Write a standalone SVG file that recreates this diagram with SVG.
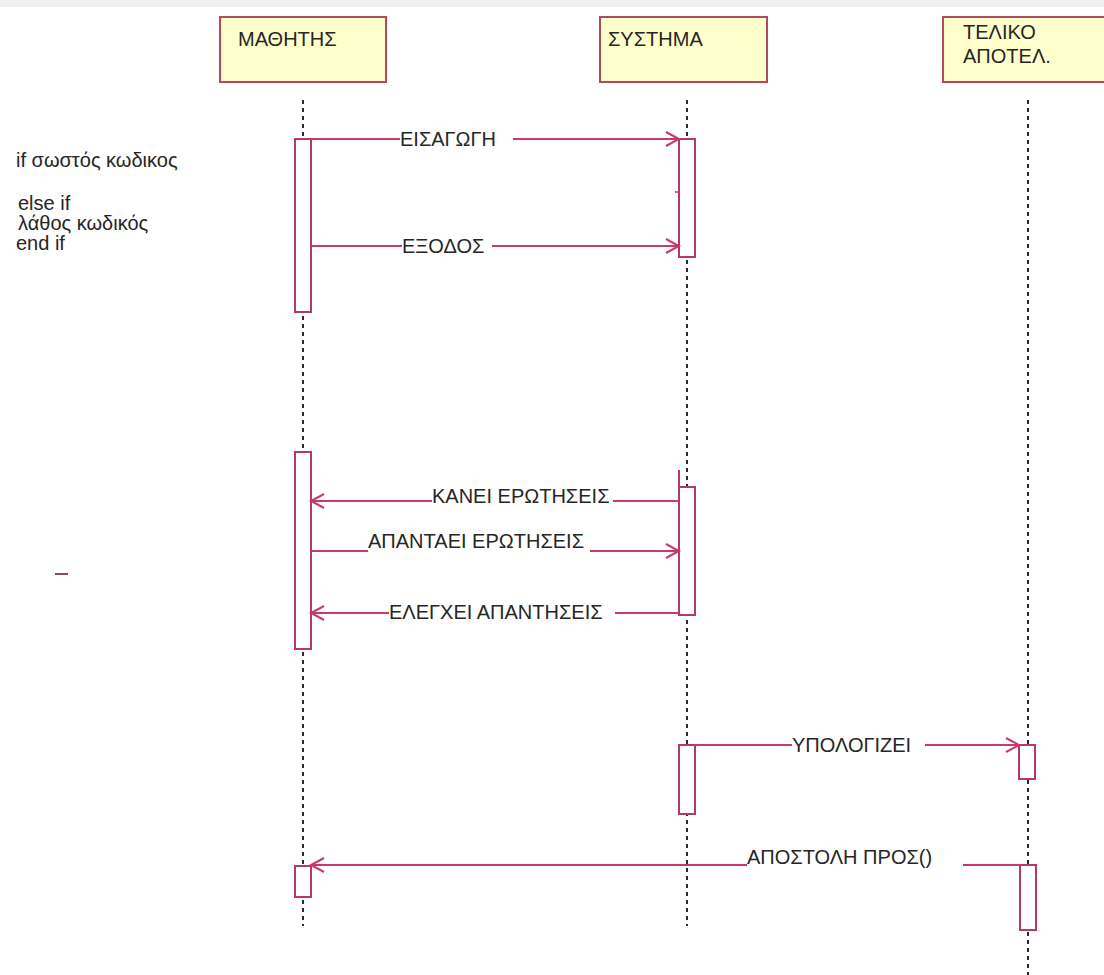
<svg xmlns="http://www.w3.org/2000/svg" width="1104" height="975" viewBox="0 0 1104 975">
<defs>
<style>
.bg{fill:#ffffff}
.head{fill:#ffffcc;stroke:#b04a5e;stroke-width:2}
.life{stroke:#2a2a2a;stroke-width:2;stroke-dasharray:4 4;fill:none}
.act{fill:#ffffff;stroke:#b8385e;stroke-width:2}
.msg{stroke:#c83a68;stroke-width:2;fill:none}
.t{font-family:"Liberation Sans",Arial,sans-serif;font-size:20px;fill:#262626}
</style>
<marker id="open" markerUnits="userSpaceOnUse" markerWidth="20" markerHeight="20" refX="14" refY="8" orient="auto">
<path d="M1,1 L14,8 L1,15" fill="none" stroke="#c83a68" stroke-width="2"/>
</marker>
</defs>
<rect class="bg" x="0" y="0" width="1104" height="975"/>
<rect x="0" y="0" width="1104" height="7" fill="#f1f1f1"/>

<g id="lifelines">
<line class="life" x1="303" y1="100" x2="303" y2="926"/>
<line class="life" x1="687" y1="100" x2="687" y2="926"/>
<line class="life" x1="1028" y1="100" x2="1028" y2="975"/>
</g>

<g id="node-mathitis">
<rect class="head" x="220" y="17" width="166" height="65"/>
<text class="t" x="238" y="46">ΜΑΘΗΤΗΣ</text>
</g>
<g id="node-systima">
<rect class="head" x="600" y="17" width="167" height="65"/>
<text class="t" x="608" y="46">ΣΥΣΤΗΜΑ</text>
</g>
<g id="node-teliko">
<rect class="head" x="943" y="17" width="170" height="65"/>
<text class="t" x="963" y="39">ΤΕΛΙΚΟ</text>
<text class="t" x="963" y="63">ΑΠΟΤΕΛ.</text>
</g>

<g id="activations">
<rect class="act" x="295" y="139" width="16" height="173"/>
<rect class="act" x="295" y="452" width="16" height="197"/>
<rect class="act" x="295" y="866" width="16" height="31"/>
<rect class="act" x="679" y="139" width="16" height="118"/>
<line class="msg" x1="675" y1="192" x2="679" y2="192" style="stroke-width:1.5"/>
<rect class="act" x="679" y="487" width="16" height="128"/>
<line class="act" x1="679" y1="470" x2="679" y2="487"/>
<rect class="act" x="679" y="745" width="16" height="69"/>
<rect class="act" x="1019" y="745" width="16" height="34"/>
<rect class="act" x="1020" y="865" width="16" height="65"/>
</g>

<g id="connectors">
<line class="msg" x1="311" y1="139" x2="400" y2="139"/>
<line class="msg" x1="513" y1="139" x2="679" y2="139" marker-end="url(#open)"/>
<line class="msg" x1="311" y1="246" x2="402" y2="246"/>
<line class="msg" x1="492" y1="246" x2="679" y2="246" marker-end="url(#open)"/>
<line class="msg" x1="679" y1="501" x2="613" y2="501"/>
<line class="msg" x1="432" y1="501" x2="311" y2="501" marker-end="url(#open)"/>
<line class="msg" x1="311" y1="551" x2="368" y2="551"/>
<line class="msg" x1="590" y1="551" x2="679" y2="551" marker-end="url(#open)"/>
<line class="msg" x1="679" y1="613" x2="615" y2="613"/>
<line class="msg" x1="389" y1="613" x2="311" y2="613" marker-end="url(#open)"/>
<line class="msg" x1="695" y1="745" x2="792" y2="745"/>
<line class="msg" x1="925" y1="745" x2="1019" y2="745" marker-end="url(#open)"/>
<line class="msg" x1="1020" y1="865" x2="963" y2="865"/>
<line class="msg" x1="747" y1="865" x2="311" y2="865" marker-end="url(#open)"/>
</g>

<g id="labels">
<text class="t" x="400" y="146">ΕΙΣΑΓΩΓΗ</text>
<text class="t" x="402" y="253">ΕΞΟΔΟΣ</text>
<text class="t" x="432" y="503">ΚΑΝΕΙ ΕΡΩΤΗΣΕΙΣ</text>
<text class="t" x="368" y="548">ΑΠΑΝΤΑΕΙ ΕΡΩΤΗΣΕΙΣ</text>
<text class="t" x="389" y="619">ΕΛΕΓΧΕΙ ΑΠΑΝΤΗΣΕΙΣ</text>
<text class="t" x="792" y="752">ΥΠΟΛΟΓΙΖΕΙ</text>
<text class="t" x="747" y="864">ΑΠΟΣΤΟΛΗ ΠΡΟΣ()</text>
</g>

<g id="notes">
<text class="t" x="16" y="167">if σωστός κωδικος</text>
<text class="t" x="18" y="210">else if</text>
<text class="t" x="18" y="230">λάθος κωδικός</text>
<text class="t" x="16" y="250">end if</text>
<line x1="55" y1="574" x2="68" y2="574" stroke="#8a4a5a" stroke-width="2"/>
</g>
</svg>
